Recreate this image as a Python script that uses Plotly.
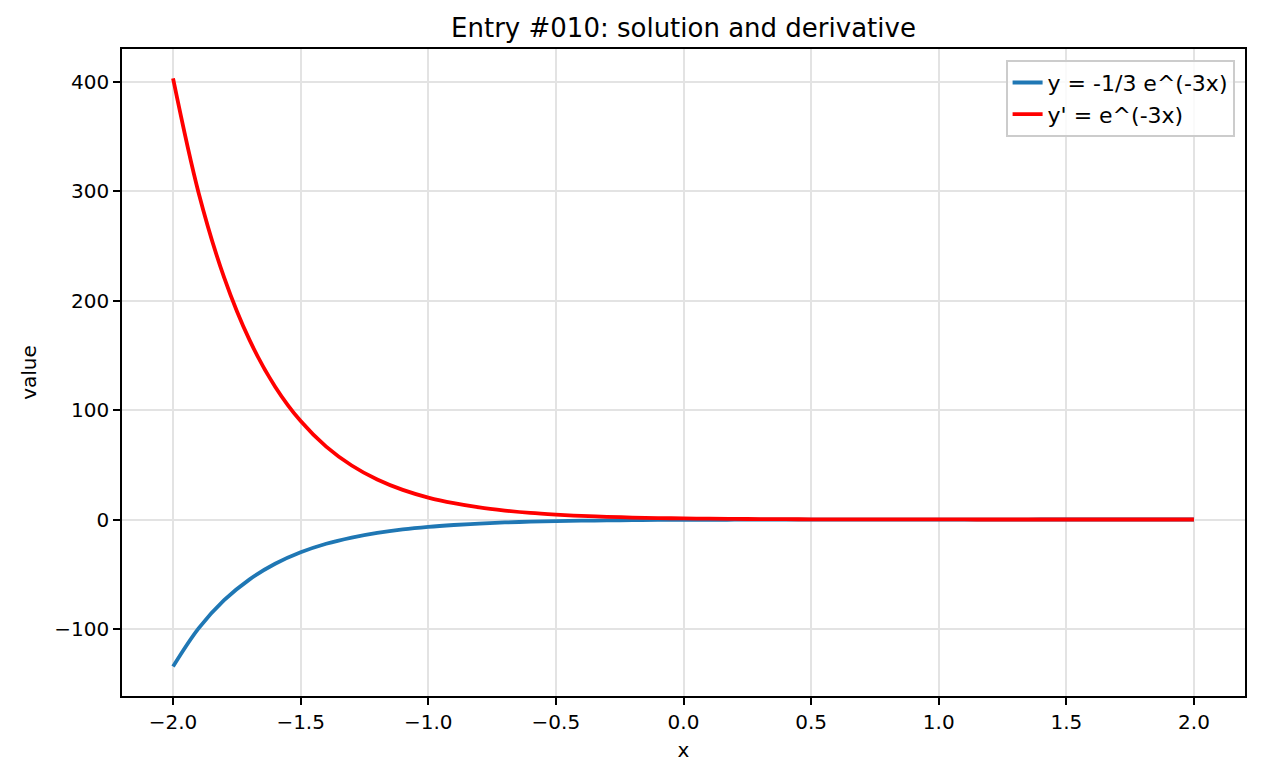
import plotly.graph_objects as go

# values
x_vals = [-2.0, -1.9, -1.8, -1.7, -1.6, -1.5, -1.4, -1.3, -1.2, -1.1, -1.0,
          -0.9, -0.8, -0.7, -0.6, -0.5, -0.4, -0.3, -0.2, -0.1, 0.0,
          0.1, 0.2, 0.3, 0.4, 0.5, 0.6, 0.7, 0.8, 0.9, 1.0,
          1.1, 1.2, 1.3, 1.4, 1.5, 1.6, 1.7, 1.8, 1.9, 2.0]
y_solution = [-134.5, -99.6, -73.8, -54.7, -40.5, -30.0, -22.2, -16.5, -12.2, -9.0, -6.7,
              -5.0, -3.7, -2.7, -2.0, -1.5, -1.1, -0.8, -0.6, -0.4, -0.33,
              -0.25, -0.18, -0.14, -0.10, -0.07, -0.05, -0.04, -0.03, -0.02, -0.02,
              -0.01, -0.01, -0.01, -0.005, -0.004, -0.003, -0.002, -0.002, -0.001, -0.001]
y_derivative = [403.4, 298.9, 221.4, 164.0, 121.5, 90.0, 66.7, 49.4, 36.6, 27.1, 20.1,
                14.9, 11.0, 8.2, 6.0, 4.5, 3.3, 2.5, 1.8, 1.3, 1.0,
                0.74, 0.55, 0.41, 0.30, 0.22, 0.17, 0.12, 0.09, 0.07, 0.05,
                0.04, 0.03, 0.02, 0.015, 0.011, 0.008, 0.006, 0.005, 0.003, 0.002]

series_names = ["y = -1/3 e^(-3x)", "y' = e^(-3x)"]
series_colors = ["#1f77b4", "#ff0000"]

fig = go.Figure()
fig.add_trace(go.Scatter(x=x_vals, y=y_solution, mode="lines", name=series_names[0],
                         line=dict(color=series_colors[0], width=3.8, shape="spline")))
fig.add_trace(go.Scatter(x=x_vals, y=y_derivative, mode="lines", name=series_names[1],
                         line=dict(color=series_colors[1], width=3.8, shape="spline")))

axis_common = dict(
    showline=True, linecolor="black", linewidth=1.7, mirror=True,
    ticks="outside", ticklen=7, tickwidth=1.7, tickcolor="black",
    showgrid=True, gridcolor="#e3e3e3", gridwidth=1.7,
    zeroline=False, automargin=False,
    tickfont=dict(family="DejaVu Sans", size=20, color="black"),
)

fig.update_layout(
    width=1262, height=776,
    margin=dict(l=122, r=17, t=49, b=80),
    paper_bgcolor="white", plot_bgcolor="white",
    font=dict(family="DejaVu Sans", size=20, color="black"),
    title=dict(text="Entry #010: solution and derivative", x=0.5, xanchor="center",
               xref="paper", y=1 - 28 / 776, yanchor="middle",
               font=dict(family="DejaVu Sans", size=26, color="black")),
    xaxis=dict(range=[-2.2, 2.2], dtick=0.5, tick0=0, tickformat=".1f",
               title=dict(text="x", standoff=10, font=dict(size=20)), **axis_common),
    yaxis=dict(range=[-161.4, 430.3], dtick=100, tick0=0,
               title=dict(text="value", standoff=12, font=dict(size=20)), **axis_common),
    legend=dict(x=0.991, y=0.983, xanchor="right", yanchor="top",
                bgcolor="rgba(255,255,255,0.8)", bordercolor="#cccccc", borderwidth=1.7,
                font=dict(family="DejaVu Sans", size=22, color="black")),
    showlegend=True,
)

fig.write_html("out.html")
